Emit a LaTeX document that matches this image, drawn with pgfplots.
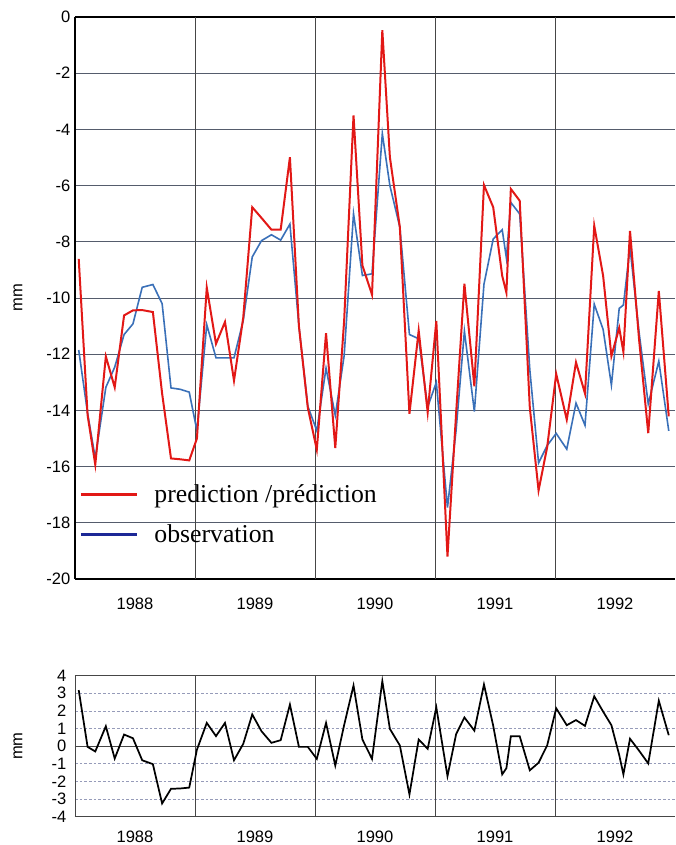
\documentclass[border=0pt]{standalone}
\usepackage{pgfplots}
\pgfplotsset{compat=1.18}
\usepackage{pgfplotstable}
\usepackage{fontspec}
\setmainfont{Liberation Sans}
\newfontfamily\legfont{Liberation Serif}
\definecolor{predred}{RGB}{226,24,22}
\definecolor{obsblue}{RGB}{58,112,184}
\definecolor{legblue}{RGB}{28,40,150}
\definecolor{gridc}{RGB}{85,92,108}
\definecolor{vgrid}{RGB}{70,70,70}
\definecolor{dashc}{RGB}{150,155,185}

\pgfplotstableread{
x pred obs res
1988.031 -8.61 -11.85 3.18
1988.105 -14.17 -14.10 -0.04
1988.169 -15.93 -15.70 -0.30
1988.257 -12.08 -13.18 1.13
1988.331 -13.18 -12.46 -0.70
1988.409 -10.62 -11.30 0.66
1988.483 -10.44 -10.92 0.45
1988.560 -10.43 -9.62 -0.80
1988.649 -10.50 -9.52 -1.02
1988.726 -13.40 -10.20 -3.25
1988.800 -15.71 -13.20 -2.42
1988.877 -15.74 -13.25 -2.40
1988.952 -15.78 -13.35 -2.35
1989.016 -15.00 -14.72 -0.20
1989.098 -9.63 -10.95 1.32
1989.175 -11.63 -12.13 0.57
1989.250 -10.85 -12.13 1.32
1989.325 -12.94 -12.13 -0.80
1989.402 -10.70 -10.80 0.13
1989.477 -6.77 -8.54 1.80
1989.554 -7.15 -7.96 0.85
1989.637 -7.57 -7.75 0.19
1989.714 -7.57 -7.94 0.34
1989.791 -4.99 -7.37 2.36
1989.866 -11.00 -11.00 -0.04
1989.940 -13.90 -13.85 -0.04
1990.015 -15.40 -14.72 -0.72
1990.092 -11.25 -12.50 1.32
1990.169 -15.34 -14.18 -1.10
1990.243 -10.80 -12.05 1.20
1990.321 -3.50 -7.00 3.44
1990.395 -8.84 -9.20 0.38
1990.475 -9.88 -9.14 -0.72
1990.561 -0.47 -4.15 3.69
1990.624 -4.99 -6.00 0.98
1990.707 -7.48 -7.48 0.04
1990.787 -14.12 -11.30 -2.74
1990.864 -11.16 -11.45 0.38
1990.939 -14.07 -13.88 -0.15
1991.011 -10.82 -13.00 2.20
1991.104 -19.20 -17.46 -1.70
1991.176 -14.10 -14.70 0.68
1991.245 -9.49 -11.18 1.63
1991.328 -13.14 -14.04 0.88
1991.408 -5.98 -9.51 3.50
1991.485 -6.77 -7.90 1.16
1991.560 -9.21 -7.57 -1.60
1991.595 -9.81 -8.58 -1.25
1991.632 -6.12 -6.60 0.56
1991.706 -6.54 -7.01 0.56
1991.790 -13.90 -12.55 -1.37
1991.863 -16.85 -15.87 -0.94
1991.935 -15.30 -15.25 0.05
1992.010 -12.70 -14.82 2.15
1992.098 -14.33 -15.38 1.19
1992.175 -12.29 -13.74 1.48
1992.250 -13.40 -14.53 1.15
1992.327 -7.43 -10.22 2.83
1992.401 -9.21 -11.12 1.96
1992.470 -12.07 -13.10 1.19
1992.535 -11.06 -10.37 -0.50
1992.570 -11.92 -10.25 -1.60
1992.625 -7.61 -8.20 0.42
1992.700 -11.45 -11.20 -0.25
1992.777 -14.81 -13.77 -0.98
1992.865 -9.75 -12.25 2.58
1992.948 -14.21 -14.73 0.62
}\data

\begin{document}
\begin{tikzpicture}
\begin{axis}[
  at={(0,0)}, anchor=south west,
  scale only axis, width=450pt, height=421.5pt,
  xmin=1988, xmax=1993, ymin=-20, ymax=0,
  axis x line*=box, axis y line*=left,
  axis line style={black, line width=1.3pt},
  ytick={-20,-18,...,0},
  xtick={1988.5,1989.5,1990.5,1991.5,1992.5},
  xticklabels={1988,1989,1990,1991,1992},
  extra x ticks={1989,1990,1991,1992}, extra x tick labels={},
  extra x tick style={grid=major, major grid style={vgrid, solid, line width=0.6pt}},
  ymajorgrids, major grid style={gridc, line width=0.7pt},
  major tick length=0pt,
  tick label style={font=\fontsize{12.4}{14}\selectfont},
  /pgf/number format/assume math mode=true,
  xticklabel style={yshift=-11pt},
  ylabel={mm},
  every axis y label/.style={at={(axis description cs:-0.095,0.5)}, rotate=90, anchor=center, font=\fontsize{12.4}{14}\selectfont},
  legend style={at={(axis cs:1988.0,-16.45)}, anchor=north west, draw=none, fill=none,
    font=\legfont\fontsize{19.3}{22}\selectfont, row sep=11pt,
    /tikz/every odd column/.append style={column sep=10pt}},
  legend cell align=left,
  legend image code/.code={\draw[#1] (0pt,0pt) -- (42pt,0pt);},
]
\addplot[obsblue, line width=1.2pt, forget plot] table[x=x, y=obs]{\data};
\addplot[predred, line width=1.5pt, forget plot] table[x=x, y=pred]{\data};
\addlegendimage{predred, line width=2.4pt}
\addlegendentry{prediction /prédiction}
\addlegendimage{legblue, line width=2.4pt}
\addlegendentry{observation}
\end{axis}

\begin{axis}[
  at={(0,-72.5pt)}, anchor=north west,
  scale only axis, width=450pt, height=105.75pt,
  xmin=1988, xmax=1993, ymin=-4, ymax=4,
  axis x line*=box, axis y line*=left,
  axis line style={vgrid, line width=0.7pt},
  ytick={-4,-3,...,4},
  xtick={1988.5,1989.5,1990.5,1991.5,1992.5},
  xticklabels={1988,1989,1990,1991,1992},
  extra x ticks={1989,1990,1991,1992}, extra x tick labels={},
  extra x tick style={grid=major, major grid style={vgrid, solid, line width=0.6pt}},
  ymajorgrids, major grid style={dashc, line width=0.5pt, dash pattern=on 2pt off 1.5pt},
  major tick length=0pt,
  tick label style={font=\fontsize{12.4}{14}\selectfont},
  /pgf/number format/assume math mode=true,
  xticklabel style={yshift=-7pt},
  yticklabel style={xshift=-3pt},
  ylabel={mm},
  every axis y label/.style={at={(axis description cs:-0.095,0.5)}, rotate=90, anchor=center, font=\fontsize{12.4}{14}\selectfont},
]
\addplot[vgrid, line width=0.7pt, forget plot] coordinates {(1988,0) (1993,0)};
\addplot[black, line width=1.3pt] table[x=x, y=res]{\data};
\end{axis}
\pgfresetboundingbox
\path[use as bounding box] (-56.25pt,-199.5pt) rectangle (450pt,434.25pt);
\end{tikzpicture}
\end{document}
